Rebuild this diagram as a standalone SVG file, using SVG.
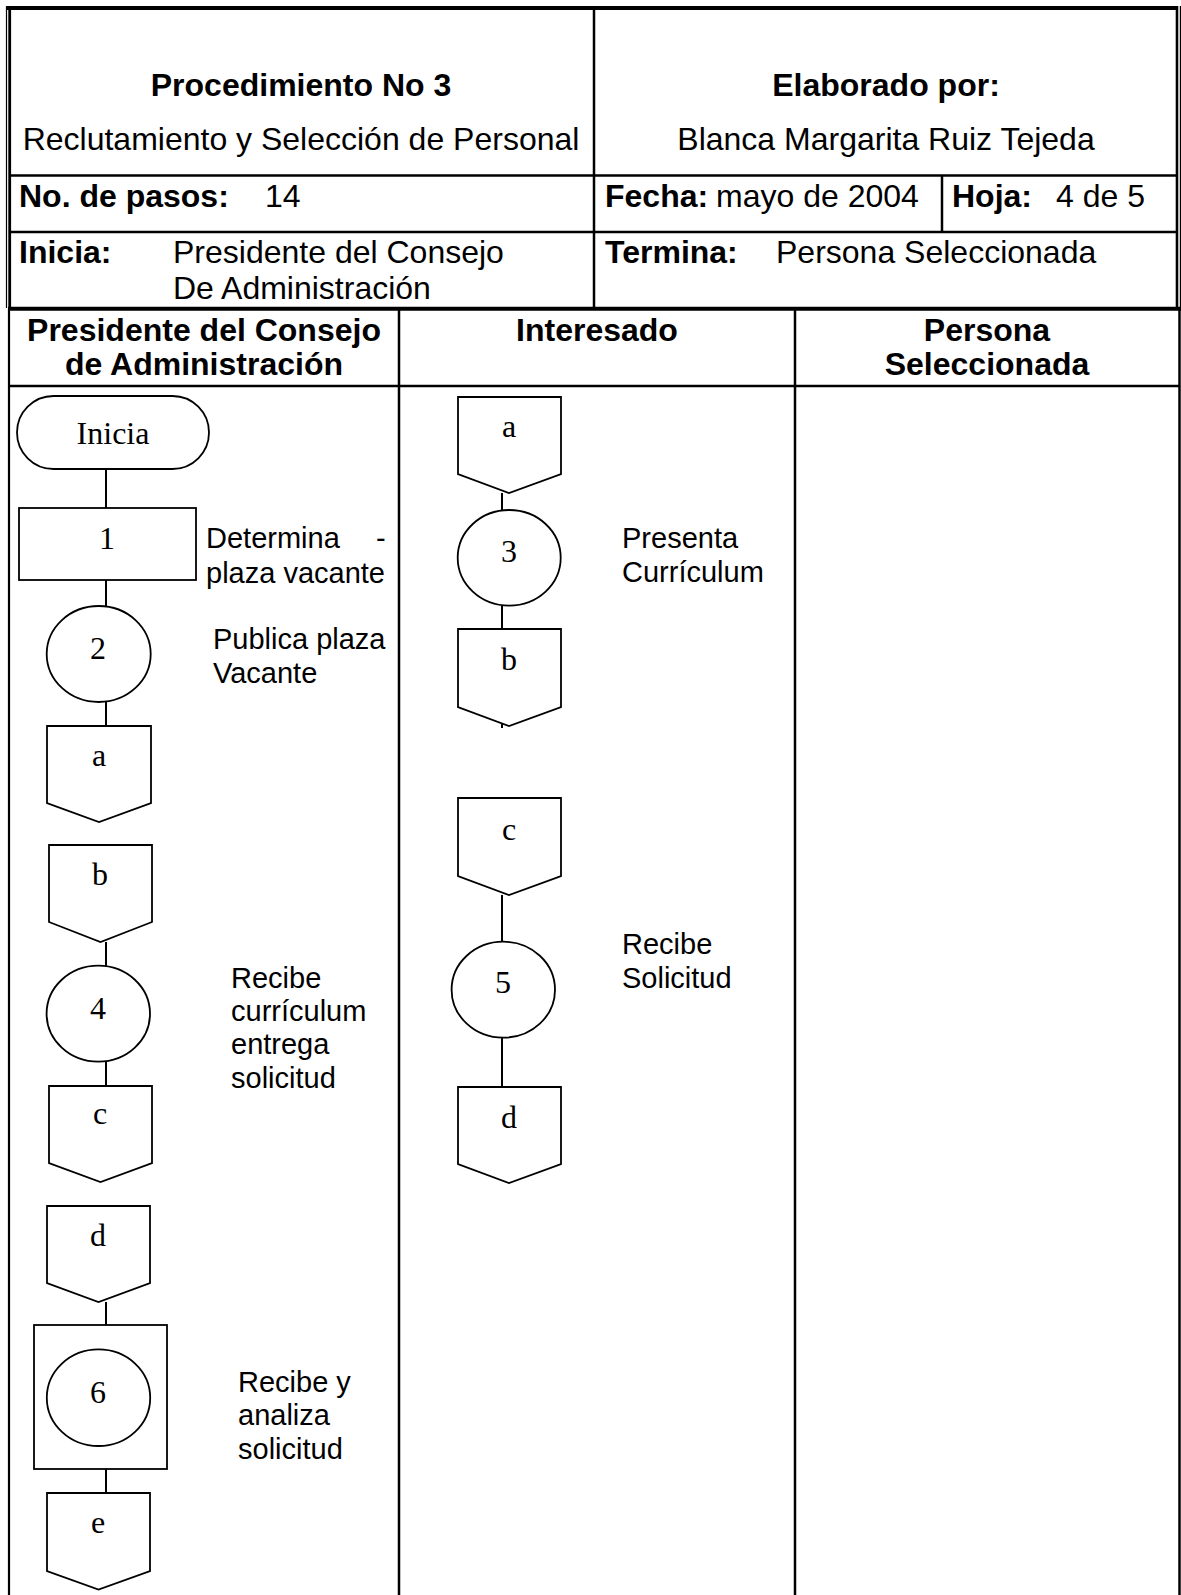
<svg xmlns="http://www.w3.org/2000/svg" width="1181" height="1595" viewBox="0 0 1181 1595">
<style>
.ln{stroke:#000;fill:none}
.shape{fill:#fff;stroke:#000;stroke-width:1.8}
.conn{stroke:#000;stroke-width:2;fill:none}
.sym{font-family:"Liberation Serif","Times New Roman",serif;font-size:32px;text-anchor:middle;fill:#000}
.lbl{font-family:"Liberation Sans",Arial,sans-serif;font-size:29px;fill:#000}
.hd{font-family:"Liberation Sans",Arial,sans-serif;font-size:32px;fill:#000}
.b{font-weight:bold}
.mid{text-anchor:middle}
</style>
<rect width="1181" height="1595" fill="#fff"/>

<!-- Header block -->
<g id="header">
  <line class="ln" x1="6" y1="8" x2="1178" y2="8" stroke-width="4"/>
  <line class="ln" x1="6.5" y1="6" x2="6.5" y2="308" stroke-width="1.2"/>
  <line class="ln" x1="9.7" y1="10" x2="9.7" y2="308" stroke-width="2.8"/>
  <line class="ln" x1="1177" y1="6" x2="1177" y2="308" stroke-width="2.6"/>
  <line class="ln" x1="1180.4" y1="6" x2="1180.4" y2="308" stroke-width="1.2"/>
  <line class="ln" x1="9.7" y1="175.5" x2="1177" y2="175.5" stroke-width="2.5"/>
  <line class="ln" x1="9.7" y1="232" x2="1177" y2="232" stroke-width="2.5"/>
  <line class="ln" x1="594" y1="8" x2="594" y2="309" stroke-width="2.5"/>
  <line class="ln" x1="942" y1="175.5" x2="942" y2="232" stroke-width="2.5"/>
  <line class="ln" x1="8" y1="308.8" x2="1181" y2="308.8" stroke-width="4"/>

  <text class="hd b mid" x="301" y="96">Procedimiento No 3</text>
  <text class="hd mid" x="301" y="150">Reclutamiento y Selección de Personal</text>
  <text class="hd b mid" x="886" y="96">Elaborado por:</text>
  <text class="hd mid" x="886" y="150">Blanca Margarita Ruiz Tejeda</text>

  <text class="hd" y="207"><tspan class="b" x="19">No. de pasos:</tspan><tspan x="265">14</tspan></text>
  <text class="hd" y="207"><tspan class="b" x="605">Fecha:</tspan><tspan x="716">mayo de 2004</tspan></text>
  <text class="hd" y="207"><tspan class="b" x="952">Hoja:</tspan><tspan x="1056">4 de 5</tspan></text>

  <text class="hd" y="263"><tspan class="b" x="19">Inicia:</tspan><tspan x="173">Presidente del Consejo</tspan></text>
  <text class="hd" x="173" y="299">De Administración</text>
  <text class="hd" y="263"><tspan class="b" x="605">Termina:</tspan><tspan x="776">Persona Seleccionada</tspan></text>
</g>

<!-- Swimlane grid -->
<g id="lanes">
  <line class="ln" x1="9" y1="309" x2="9" y2="1595" stroke-width="2.2"/>
  <line class="ln" x1="1179.5" y1="309" x2="1179.5" y2="1595" stroke-width="2.5"/>
  <line class="ln" x1="399" y1="309" x2="399" y2="1595" stroke-width="2.5"/>
  <line class="ln" x1="795" y1="309" x2="795" y2="1595" stroke-width="2.5"/>
  <line class="ln" x1="9" y1="386" x2="1179.5" y2="386" stroke-width="2.5"/>

  <text class="hd b mid" x="204" y="341">Presidente del Consejo</text>
  <text class="hd b mid" x="204" y="375">de Administración</text>
  <text class="hd b mid" x="597" y="341">Interesado</text>
  <text class="hd b mid" x="987" y="341">Persona</text>
  <text class="hd b mid" x="987" y="375">Seleccionada</text>
</g>

<!-- Connectors -->
<g id="connectors">
  <line class="conn" x1="106" y1="469" x2="106" y2="508"/>
  <line class="conn" x1="106" y1="580" x2="106" y2="606"/>
  <line class="conn" x1="106" y1="702" x2="106" y2="726"/>
  <line class="conn" x1="106" y1="942" x2="106" y2="966"/>
  <line class="conn" x1="106" y1="1062" x2="106" y2="1086"/>
  <line class="conn" x1="106" y1="1302" x2="106" y2="1325"/>
  <line class="conn" x1="106" y1="1469" x2="106" y2="1493"/>
  <line class="conn" x1="502" y1="493" x2="502" y2="510"/>
  <line class="conn" x1="502" y1="606" x2="502" y2="629"/>
  <line class="conn" x1="502" y1="722" x2="502" y2="728"/>
  <line class="conn" x1="502" y1="895" x2="502" y2="942"/>
  <line class="conn" x1="502" y1="1038" x2="502" y2="1087"/>
</g>

<!-- Presidente del Consejo lane -->
<g id="node-inicia">
  <rect class="shape" x="17" y="396" width="192" height="73" rx="36.5"/>
  <text class="sym" x="113" y="444">Inicia</text>
</g>
<g id="node-1">
  <rect class="shape" x="19" y="508" width="177" height="72"/>
  <text class="sym" x="107" y="549">1</text>
  <text class="lbl" y="548"><tspan x="206">Determina</tspan><tspan x="376">-</tspan></text>
  <text class="lbl" x="206" y="583">plaza vacante</text>
</g>
<g id="node-2">
  <ellipse class="shape" cx="98.7" cy="654" rx="52" ry="48"/>
  <text class="sym" x="98" y="659">2</text>
  <text class="lbl" x="213" y="649">Publica plaza</text>
  <text class="lbl" x="213" y="682.5">Vacante</text>
</g>
<g id="node-a-out">
  <path class="shape" d="M47,726 H151 V803 L99,822 L47,803 Z"/>
  <text class="sym" x="99" y="766">a</text>
</g>
<g id="node-b-in">
  <path class="shape" d="M49,845 H152 V922 L100.5,942 L49,922 Z"/>
  <text class="sym" x="100" y="885">b</text>
</g>
<g id="node-4">
  <ellipse class="shape" cx="98.3" cy="1013.7" rx="51.7" ry="48"/>
  <text class="sym" x="98" y="1018.5">4</text>
  <text class="lbl" x="231" y="988">Recibe</text>
  <text class="lbl" x="231" y="1020.5">currículum</text>
  <text class="lbl" x="231" y="1054">entrega</text>
  <text class="lbl" x="231" y="1087.5">solicitud</text>
</g>
<g id="node-c-out">
  <path class="shape" d="M49,1086 H152 V1163 L100.5,1182 L49,1163 Z"/>
  <text class="sym" x="100" y="1124">c</text>
</g>
<g id="node-d-in">
  <path class="shape" d="M47,1206 H150 V1283 L98.5,1302 L47,1283 Z"/>
  <text class="sym" x="98" y="1246">d</text>
</g>
<g id="node-6">
  <rect class="shape" x="34" y="1325" width="133" height="144"/>
  <ellipse class="shape" cx="98.5" cy="1397.7" rx="51.7" ry="48.3"/>
  <text class="sym" x="98" y="1402.5">6</text>
  <text class="lbl" x="238" y="1391.5">Recibe y</text>
  <text class="lbl" x="238" y="1425">analiza</text>
  <text class="lbl" x="238" y="1458.5">solicitud</text>
</g>
<g id="node-e-out">
  <path class="shape" d="M47,1493 H150 V1571 L98.5,1589.5 L47,1571 Z"/>
  <text class="sym" x="98" y="1533">e</text>
</g>

<!-- Interesado lane -->
<g id="node-a-in">
  <path class="shape" d="M458,397 H561 V474 L509,493 L458,474 Z"/>
  <text class="sym" x="509" y="437">a</text>
</g>
<g id="node-3">
  <ellipse class="shape" cx="509.2" cy="557.8" rx="51.5" ry="47.8"/>
  <text class="sym" x="509" y="562">3</text>
  <text class="lbl" x="622" y="548">Presenta</text>
  <text class="lbl" x="622" y="582">Currículum</text>
</g>
<g id="node-b-out">
  <path class="shape" d="M458,629 H561 V707 L509,726 L458,707 Z"/>
  <text class="sym" x="509" y="670">b</text>
</g>
<g id="node-c-in">
  <path class="shape" d="M458,798 H561 V876 L509,895 L458,876 Z"/>
  <text class="sym" x="509" y="840">c</text>
</g>
<g id="node-5">
  <ellipse class="shape" cx="503.3" cy="989.7" rx="51.7" ry="48"/>
  <text class="sym" x="503" y="993">5</text>
  <text class="lbl" x="622" y="953.5">Recibe</text>
  <text class="lbl" x="622" y="987.5">Solicitud</text>
</g>
<g id="node-d-out">
  <path class="shape" d="M458,1087 H561 V1164 L509,1183 L458,1164 Z"/>
  <text class="sym" x="509" y="1128">d</text>
</g>
</svg>
